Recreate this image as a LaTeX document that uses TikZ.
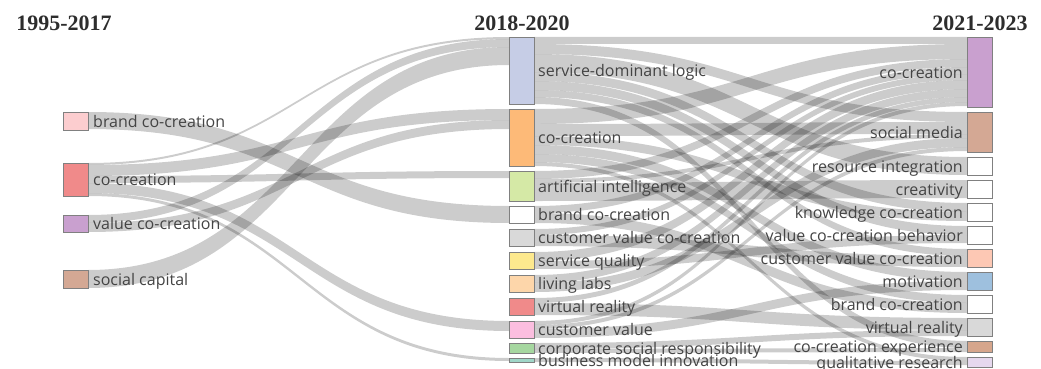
\documentclass[tikz,border=0pt]{standalone}
\usepackage{fontspec}
\setmainfont{Liberation Serif}
\newfontfamily\labelfont{Open Sans}
\usetikzlibrary{calc,positioning,backgrounds}

\definecolor{labelgray}{RGB}{68,68,68}
\definecolor{yeargray}{RGB}{45,45,45}
\definecolor{cPink}{RGB}{252,205,207}
\definecolor{cRed}{RGB}{240,138,138}
\definecolor{cPurple}{RGB}{201,160,207}
\definecolor{cBrown}{RGB}{212,168,148}
\definecolor{cLavender}{RGB}{198,205,230}
\definecolor{cOrange}{RGB}{253,186,120}
\definecolor{cLime}{RGB}{213,233,166}
\definecolor{cGrey}{RGB}{217,217,217}
\definecolor{cYellow}{RGB}{253,233,142}
\definecolor{cPeach}{RGB}{253,214,170}
\definecolor{cRose}{RGB}{251,190,223}
\definecolor{cGreen}{RGB}{166,215,160}
\definecolor{cTeal}{RGB}{160,214,200}
\definecolor{cSalmon}{RGB}{253,200,180}
\definecolor{cBlue}{RGB}{158,192,222}
\definecolor{cTan}{RGB}{214,166,140}
\definecolor{cLilac}{RGB}{230,216,238}

% band between two keyword boxes: source, offset, target, offset, width
\newcommand{\linkband}[5]{%
  \path ($(#1.north east)+(0,#2)$) coordinate (fa)
        ($(#3.north west)+(0,#4)$) coordinate (fb)
        ($(fa)+(0,#5)$) coordinate (fc)
        ($(fb)+(0,#5)$) coordinate (fd)
        ($(fa)!0.5!(fb)$) coordinate (fm);
  \fill[band] (fa) .. controls (fm |- fa) and (fm |- fb) .. (fb)
    -- (fd) .. controls (fm |- fd) and (fm |- fc) .. (fc) -- cycle;
}

\begin{document}
\begin{tikzpicture}[x=1pt,y=-1pt,
    kw/.style={draw=black!50, line width=0.8pt, minimum width=25pt,
      inner sep=0pt, outer sep=0pt, anchor=north west},
    lbl/.style={font=\labelfont\fontsize{16}{18}\selectfont, text=labelgray,
      inner sep=0pt, text height=14pt, text depth=2pt},
    year/.style={font=\fontsize{22}{24}\selectfont\bfseries, text=yeargray, inner sep=0pt},
    band/.style={fill=black, fill opacity=0.2}]

  \useasboundingbox (0,0) rectangle (1041,369);

  % ====================================================
  % PERIOD HEADINGS
  % ====================================================
  \node[year] (y1) at (64,23) {1995-2017};
  \node[year] (y2) at (522,23) {2018-2020};
  \node[year] (y3) at (980,23) {2021-2023};

  % ====================================================
  % KEYWORD BOXES
  % ====================================================

  % 1995-2017
  \node[kw, fill=cPink,   minimum height=18pt] (Lbrand) at (63,112) {};
  \node[kw, fill=cRed,    minimum height=33pt] (Lco)    at (63,163) {};
  \node[kw, fill=cPurple, minimum height=17pt] (Lvcc)   at (63,215) {};
  \node[kw, fill=cBrown,  minimum height=18pt] (Lsc)    at (63,270) {};

  % 2018-2020
  \node[kw, fill=cLavender, minimum height=67pt] (Msdl)   at (509,37) {};
  \node[kw, fill=cOrange,   minimum height=57pt] (Mco)    at (509,109) {};
  \node[kw, fill=cLime,     minimum height=30pt] (Mai)    at (509,171) {};
  \node[kw, fill=white,     minimum height=17pt] (Mbrand) at (509,206) {};
  \node[kw, fill=cGrey,     minimum height=17pt] (Mcvcc)  at (509,229) {};
  \node[kw, fill=cYellow,   minimum height=17pt] (Msq)    at (509,252) {};
  \node[kw, fill=cPeach,    minimum height=17pt] (Mll)    at (509,275) {};
  \node[kw, fill=cRed,      minimum height=17pt] (Mvr)    at (509,298) {};
  \node[kw, fill=cRose,     minimum height=17pt] (Mcv)    at (509,321) {};
  \node[kw, fill=cGreen,    minimum height=10pt] (Mcsr)   at (509,343) {};
  \node[kw, fill=cTeal,     minimum height=4pt]  (Mbmi)   at (509,358) {};

  % 2021-2023
  \node[kw, fill=cPurple, minimum height=70pt] (Rco)    at (967,37) {};
  \node[kw, fill=cBrown,  minimum height=40pt] (Rsm)    at (967,112) {};
  \node[kw, fill=white,   minimum height=18pt] (Rri)    at (967,157) {};
  \node[kw, fill=white,   minimum height=18pt] (Rcre)   at (967,180) {};
  \node[kw, fill=white,   minimum height=18pt] (Rkc)    at (967,203) {};
  \node[kw, fill=white,   minimum height=18pt] (Rvccb)  at (967,226) {};
  \node[kw, fill=cSalmon, minimum height=18pt] (Rcvcc)  at (967,249) {};
  \node[kw, fill=cBlue,   minimum height=18pt] (Rmot)   at (967,272) {};
  \node[kw, fill=white,   minimum height=18pt] (Rbrand) at (967,295) {};
  \node[kw, fill=cGrey,   minimum height=18pt] (Rvr)    at (967,318) {};
  \node[kw, fill=cTan,    minimum height=11pt] (Rcce)   at (967,341) {};
  \node[kw, fill=cLilac,  minimum height=10pt] (Rqr)    at (967,357) {};

  % ====================================================
  % FLOWS (drawn behind the boxes)
  % ====================================================
  \begin{pgfonlayer}{background}
    % 1995-2017 -> 2018-2020
    \linkband{Lbrand}{0}{Mbrand}{0}{17}
    \linkband{Lco}{0}{Msdl}{0}{2}
    \linkband{Lco}{2}{Mco}{0}{11}
    \linkband{Lco}{13}{Mai}{0}{7}
    \linkband{Lco}{20}{Mcv}{0}{10}
    \linkband{Lco}{30}{Mbmi}{0}{3}
    \linkband{Lvcc}{0}{Msdl}{2}{8}
    \linkband{Lvcc}{8}{Mco}{11}{9}
    \linkband{Lsc}{0}{Msdl}{10}{18}

    % 2018-2020 -> 2021-2023
    \linkband{Msdl}{0}{Rco}{0}{7}
    \linkband{Msdl}{7}{Rsm}{0}{10}
    \linkband{Msdl}{17}{Rri}{0}{18}
    \linkband{Msdl}{35}{Rkc}{0}{9}
    \linkband{Msdl}{44}{Rvccb}{0}{9}
    \linkband{Msdl}{53}{Rcvcc}{0}{7}
    \linkband{Msdl}{60}{Rcce}{0}{7}

    \linkband{Mco}{0}{Rco}{7}{15}
    \linkband{Mco}{15}{Rsm}{10}{12}
    \linkband{Mco}{27}{Rkc}{9}{9}
    \linkband{Mco}{36}{Rmot}{0}{9}
    \linkband{Mco}{45}{Rbrand}{0}{8}
    \linkband{Mco}{53}{Rqr}{0}{4}

    \linkband{Mai}{0}{Rco}{22}{8}
    \linkband{Mai}{8}{Rsm}{22}{4}
    \linkband{Mai}{12}{Rcre}{0}{18}

    \linkband{Mbrand}{0}{Rco}{30}{7}
    \linkband{Mbrand}{7}{Rbrand}{8}{10}
    \linkband{Mcvcc}{0}{Rco}{37}{6}
    \linkband{Mcvcc}{6}{Rcvcc}{7}{11}
    \linkband{Msq}{0}{Rco}{43}{9}
    \linkband{Msq}{9}{Rvccb}{9}{8}
    \linkband{Mll}{0}{Rco}{52}{8}
    \linkband{Mll}{8}{Rsm}{26}{9}
    \linkband{Mvr}{0}{Rco}{60}{5}
    \linkband{Mvr}{5}{Rvr}{0}{12}
    \linkband{Mcv}{0}{Rco}{65}{4}
    \linkband{Mcv}{4}{Rsm}{35}{4}
    \linkband{Mcv}{8}{Rmot}{9}{9}
    \linkband{Mcsr}{0}{Rvr}{12}{6}
    \linkband{Mcsr}{6}{Rcce}{7}{4}
    \linkband{Mbmi}{0}{Rqr}{4}{4}
  \end{pgfonlayer}

  % ====================================================
  % LABELS
  % ====================================================
  \node[lbl, right=5pt of Lbrand] (Lbrand-t) {brand co-creation};
  \node[lbl, right=5pt of Lco]    (Lco-t)    {co-creation};
  \node[lbl, right=5pt of Lvcc]   (Lvcc-t)   {value co-creation};
  \node[lbl, right=5pt of Lsc]    (Lsc-t)    {social capital};

  \node[lbl, right=4pt of Msdl]   (Msdl-t)   {service-dominant logic};
  \node[lbl, right=4pt of Mco]    (Mco-t)    {co-creation};
  \node[lbl, right=4pt of Mai]    (Mai-t)    {artificial intelligence};
  \node[lbl, right=4pt of Mbrand] (Mbrand-t) {brand co-creation};
  \node[lbl, right=4pt of Mcvcc]  (Mcvcc-t)  {customer value co-creation};
  \node[lbl, right=4pt of Msq]    (Msq-t)    {service quality};
  \node[lbl, right=4pt of Mll]    (Mll-t)    {living labs};
  \node[lbl, right=4pt of Mvr]    (Mvr-t)    {virtual reality};
  \node[lbl, right=4pt of Mcv]    (Mcv-t)    {customer value};
  \node[lbl, right=4pt of Mcsr]   (Mcsr-t)   {corporate social responsibility};
  \node[lbl, right=4pt of Mbmi]   (Mbmi-t)   {business model innovation};

  \node[lbl, left=4pt of Rco]    (Rco-t)    {co-creation};
  \node[lbl, left=4pt of Rsm]    (Rsm-t)    {social media};
  \node[lbl, left=4pt of Rri]    (Rri-t)    {resource integration};
  \node[lbl, left=4pt of Rcre]   (Rcre-t)   {creativity};
  \node[lbl, left=4pt of Rkc]    (Rkc-t)    {knowledge co-creation};
  \node[lbl, left=4pt of Rvccb]  (Rvccb-t)  {value co-creation behavior};
  \node[lbl, left=4pt of Rcvcc]  (Rcvcc-t)  {customer value co-creation};
  \node[lbl, left=4pt of Rmot]   (Rmot-t)   {motivation};
  \node[lbl, left=4pt of Rbrand] (Rbrand-t) {brand co-creation};
  \node[lbl, left=4pt of Rvr]    (Rvr-t)    {virtual reality};
  \node[lbl, left=4pt of Rcce]   (Rcce-t)   {co-creation experience};
  \node[lbl, left=4pt of Rqr]    (Rqr-t)    {qualitative research};
\end{tikzpicture}
\end{document}
